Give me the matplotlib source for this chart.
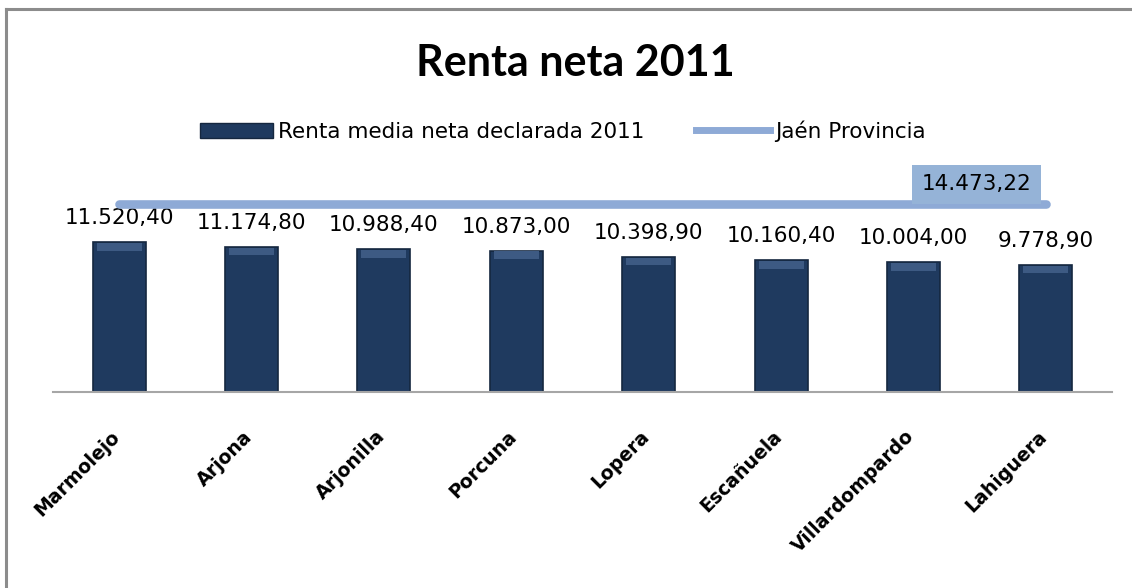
import matplotlib.pyplot as plt
from matplotlib.lines import Line2D
from matplotlib.patches import Patch
from matplotlib.transforms import ScaledTranslation

municipios = ["Marmolejo", "Arjona", "Arjonilla", "Porcuna", "Lopera",
              "Escañuela", "Villardompardo", "Lahiguera"]
renta_media = [11520.40, 11174.80, 10988.40, 10873.00, 10398.90,
               10160.40, 10004.00, 9778.90]
jaen_provincia = [14473.22, 14473.22, 14473.22, 14473.22, 14473.22,
                  14473.22, 14473.22, 14473.22]


def fmt_es(v):
    # 11520.4 -> "11.520,40"
    s = "{:,.2f}".format(v)
    return s.replace(",", "X").replace(".", ",").replace("X", ".")


plt.rcParams['font.family'] = ['DejaVu Sans']

fig = plt.figure(figsize=(11.32, 5.88), dpi=100)
ax = fig.add_axes([0.0468, 0.3333, 0.9355, 0.398])

x = list(range(len(municipios)))
bar_color = "#1f3a5f"
ax.bar(x, renta_media, width=0.4, color=bar_color, edgecolor="#15273f",
       linewidth=1.2, zorder=2)
# lighter bevel at the top of each bar
bevel = 600
ax.bar(x, [bevel] * len(x), bottom=[v - bevel - 60 for v in renta_media],
       width=0.34, color="#3d5a83", linewidth=0, zorder=3)

for xi, v in zip(x, renta_media):
    ax.annotate(fmt_es(v), (xi, v), xytext=(0, 10), textcoords="offset points",
                ha="center", va="bottom", fontsize=15.5, color="black")

line_color = "#8eaad6"
ax.plot(x, jaen_provincia, color=line_color, linewidth=6.2,
        solid_capstyle="round", zorder=4)
ax.annotate(fmt_es(jaen_provincia[-1]), (x[-1], jaen_provincia[-1]),
            xytext=(-50, 14), textcoords="offset points", ha="center",
            va="center", fontsize=15.5, color="black",
            bbox=dict(boxstyle="square,pad=0.45", fc="#95b3d7", ec="none"),
            zorder=5)

ax.set_xlim(-0.5, len(x) - 0.5)
ax.set_ylim(0, 18000)
for side in ["top", "right", "left"]:
    ax.spines[side].set_visible(False)
ax.spines["bottom"].set_color("#a6a6a6")
ax.spines["bottom"].set_linewidth(1.5)
ax.set_yticks([])
ax.set_xticks(x)
ax.set_xticklabels(municipios, rotation=45, ha="right", va="center",
                   rotation_mode="anchor", fontsize=13.6, fontweight="bold")
ax.tick_params(axis="x", length=0, pad=30)
shift = ScaledTranslation(-0.02, 0, fig.dpi_scale_trans)
for lbl in ax.get_xticklabels():
    lbl.set_transform(lbl.get_transform() + shift)

fig.text(0.508, 0.893, "Renta neta 2011", ha="center", va="center",
         fontsize=31, fontweight="bold", family=["Lato", "DejaVu Sans"])

handles = [Patch(facecolor=bar_color, edgecolor="#15273f"),
           Line2D([0], [0], color=line_color, linewidth=5)]
fig.legend(handles, ["Renta media neta declarada 2011", "Jaén Provincia"],
           loc="center", bbox_to_anchor=(0.497, 0.777), ncol=2, frameon=False,
           fontsize=15.5, handlelength=3.4, handleheight=0.7, handletextpad=0.25,
           columnspacing=2.4)

# outer chart frame (cut at right and bottom like the screenshot)
fig.add_artist(Line2D([0.0053, 0.0053], [0, 0.985], color="#8c8c8c",
                      linewidth=2.2, transform=fig.transFigure))
fig.add_artist(Line2D([0.0053, 1], [0.985, 0.985], color="#8c8c8c",
                      linewidth=2.2, transform=fig.transFigure))

fig.savefig("out.png", dpi=100)
